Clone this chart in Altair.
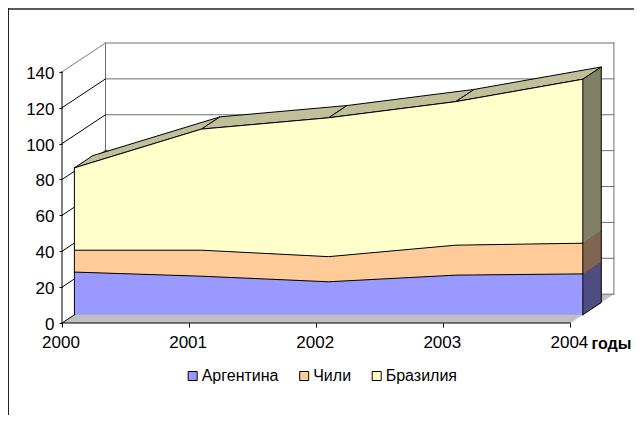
import altair as alt
import pandas as pd

years = [2000, 2001, 2002, 2003, 2004]
series_names = ["Аргентина", "Чили", "Бразилия"]
argentina = [23.8, 21.5, 18.4, 22.1, 22.8]
chile = [12.2, 14.5, 14.0, 16.7, 17.1]
brazil = [45.9, 67.5, 77.4, 80.0, 91.4]
series_values = [argentina, chile, brazil]
tick_values = [0, 20, 40, 60, 80, 100, 120, 140]

front_colors = ["#9999FF", "#FFCC99", "#FFFFCC"]
side_colors = ["#4D4D80", "#806650", "#808066"]
top_color = "#BFBF9A"
FONT = "Liberation Sans"

# oblique projection of the Excel-style 3D box, in data units
DX, DY = 0.3423, 16.07
D_F, D_B = 0.285, 0.71


def px(x, d):
    return x + d * DX


def py(v, d):
    return v + d * DY


# stack
lows, highs = [], []
base = [0.0] * len(years)
for vals in series_values:
    top = [b + v for b, v in zip(base, vals)]
    lows.append(base)
    highs.append(top)
    base = top

xs = alt.Scale(domain=[2000, 2000 + 552 / 127.1], nice=False, zero=False)
ys = alt.Scale(domain=[0, 140 + DY], nice=False, zero=False)
x_axis = alt.Axis(
    values=years, format="d", domain=False, grid=False, tickSize=4, tickColor="#000",
    labelFont=FONT, labelFontSize=17, labelColor="#000", labelPadding=7,
    labelOffset=-1.5, labelFlush=False, labelOverlap=False,
    title="годы", titleFont=FONT, titleFontSize=16, titleFontWeight="bold",
    titleColor="#000", titleAlign="left", titleBaseline="alphabetic",
    titleX=529, titleY=25.5, titleAnchor="start")
y_axis = alt.Axis(
    values=tick_values, domain=False, grid=False, tickSize=3, tickColor="#000",
    labelFont=FONT, labelFontSize=17, labelColor="#000", labelPadding=5,
    labelOffset=1.5, labelOverlap=False, labelFlush=False, title=None)
X = alt.X("x:Q", scale=xs, axis=x_axis)
Y = alt.Y("y:Q", scale=ys, axis=y_axis)
Y2 = alt.Y2("y2:Q")


def poly_rows(polys):
    rows = []
    for pid, pts in enumerate(polys):
        for o, (x, y) in enumerate(pts):
            rows.append({"id": pid, "o": o, "x": x, "y": y})
    return pd.DataFrame(rows)


def lines(polys, color, width=1.0):
    return alt.Chart(poly_rows(polys)).mark_line(
        stroke=color, strokeWidth=width, interpolate="linear", strokeCap="square"
    ).encode(x=X, y=Y, detail="id:N", order="o:Q")


def filled(polys, fill, stroke=None):
    kw = {"fill": fill, "interpolate": "linear"}
    if stroke:
        kw.update(stroke=stroke, strokeWidth=1)
    else:
        kw.update(strokeOpacity=0)
    return alt.Chart(poly_rows(polys)).mark_line(**kw).encode(
        x=X, y=Y, detail="id:N", order="o:Q"
    )


x0, x1 = years[0], years[-1]

floor = filled([[(x0, 0), (x1, 0), (px(x1, 1), DY), (px(x0, 1), DY), (x0, 0)]], "#C0C0C0")
back_grid = lines(
    [[(px(x0, 1), v + DY), (px(x1, 1), v + DY)] for v in tick_values]
    + [[(px(x0, 1), DY), (px(x0, 1), 140 + DY)], [(px(x1, 1), DY), (px(x1, 1), 140 + DY)]],
    "#707070",
)
left_wall = lines([[(x0, v), (px(x0, 1), v + DY)] for v in tick_values[:-1]], "#000")
left_top = lines([[(x0, 140), (px(x0, 1), 140 + DY)]], "#808080")
front_axis = lines([[(x0, 0), (x0, 140)], [(x0, 0), (x1, 0)]], "#000")

# top surfaces
tops = []
for s in range(3):
    polys = []
    for i in range(len(years) - 1):
        a, b = highs[s][i], highs[s][i + 1]
        polys.append([
            (px(years[i], D_F), py(a, D_F)), (px(years[i + 1], D_F), py(b, D_F)),
            (px(years[i + 1], D_B), py(b, D_B)), (px(years[i], D_B), py(a, D_B)),
            (px(years[i], D_F), py(a, D_F)),
        ])
    tops.append(filled(polys, top_color, "#000"))

# right side faces
sides = []
for s in range(3):
    rows = [{"x": px(x1, d), "y": py(highs[s][-1], d), "y2": py(lows[s][-1], d)} for d in (D_F, D_B)]
    sides.append(alt.Chart(pd.DataFrame(rows)).mark_area(interpolate="linear", fill=side_colors[s]).encode(x=X, y=Y, y2=Y2))
side_outline = lines([[
    (px(x1, D_F), py(highs[2][-1], D_F)), (px(x1, D_B), py(highs[2][-1], D_B)),
    (px(x1, D_B), py(0, D_B)), (px(x1, D_F), py(0, D_F)),
]], "#000")

# front faces (stacked areas in the series plane)
front_rows = []
for s in range(3):
    for i, yr in enumerate(years):
        front_rows.append({
            "series": series_names[s], "x": px(yr, D_F),
            "y": py(highs[s][i], D_F), "y2": py(lows[s][i], D_F),
        })
fronts = alt.Chart(pd.DataFrame(front_rows)).mark_area(interpolate="linear").encode(
    x=X, y=Y, y2=Y2,
    fill=alt.Fill("series:N", sort=series_names,
                  scale=alt.Scale(domain=series_names, range=front_colors),
                  legend=alt.Legend(
                      orient="none", legendX=122.7, legendY=325, direction="horizontal",
                      columns=3, title=None, symbolType="square", symbolSize=81,
                      symbolStrokeColor="#000", symbolStrokeWidth=1, symbolOpacity=1,
                      labelFont=FONT, labelFontSize=16, labelColor="#000", labelOffset=1,
                      columnPadding=17.5)),
)
front_lines = lines(
    [[(px(yr, D_F), py(highs[s][i], D_F)) for i, yr in enumerate(years)] for s in range(3)],
    "#000",
)
edges = lines([
    [(px(x0, D_F), py(0, D_F)), (px(x0, D_F), py(highs[2][0], D_F))],
    [(px(x1, D_F), py(0, D_F)), (px(x1, D_F), py(highs[2][-1], D_F))],
], "#000")

frame = alt.Chart(pd.DataFrame({"a": [0]})).mark_rule(color="#222", strokeWidth=1.7).encode(
    x=alt.value(-54), x2=alt.value(572), y=alt.value(-34)
) + alt.Chart(pd.DataFrame({"a": [0]})).mark_rule(color="#222", strokeWidth=2).encode(
    x=alt.value(-54), y=alt.value(-35), y2=alt.value(372)
)

chart = alt.layer(
    floor, back_grid, left_top, left_wall, front_axis,
    *tops, *sides, side_outline, fronts, front_lines, edges, frame,
).properties(
    width=552, height=280, autosize="none",
    padding={"left": 54, "top": 35, "right": 20, "bottom": 92},
    background="white",
).configure_view(stroke=None)

chart.save("out.html", embed_options={"renderer": "svg", "actions": False})
